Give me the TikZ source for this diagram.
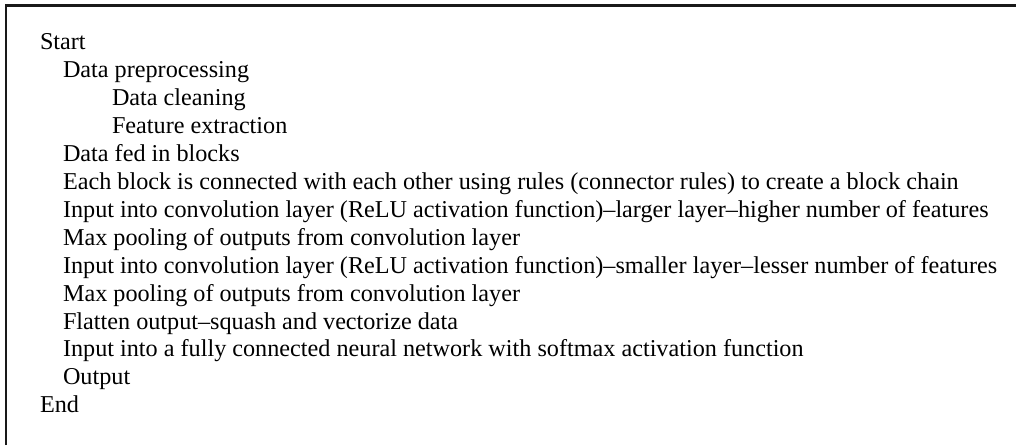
\documentclass[tikz,border=0pt]{standalone}
\usepackage{fontspec}
\setmainfont{Liberation Serif}
\begin{document}
\begin{tikzpicture}[x=1pt,y=1pt,
  step line/.style={anchor=base west,inner sep=0pt,outer sep=0pt,
    font=\fontsize{24.2}{28}\selectfont},
  frame line/.style={line width=2.2pt,draw=black!90}]
\useasboundingbox (0,0) rectangle (1016,445);
% frame (open at the right and bottom)
\coordinate (fb) at (6,0);
\coordinate (fc) at (6,439.5);
\coordinate (fr) at (1016,439.5);
\draw[frame line] (fb) -- (fc) -- (fr);
% algorithm steps, one per line
\def\pitch{27.9}
\node[step line] (l1)  at (40,{445-50}) {Start};
\node[step line] (l2)  at (63,{445-50-1*\pitch}) {Data preprocessing};
\node[step line] (l3)  at (112,{445-50-2*\pitch}) {Data cleaning};
\node[step line] (l4)  at (112,{445-50-3*\pitch}) {Feature extraction};
\node[step line] (l5)  at (63,{445-50-4*\pitch}) {Data fed in blocks};
\node[step line] (l6)  at (63,{445-50-5*\pitch}) {Each block is connected with each other using rules (connector rules) to create a block chain};
\node[step line] (l7)  at (63,{445-50-6*\pitch}) {Input into convolution layer (ReLU activation function)\textendash larger layer\textendash higher number of features};
\node[step line] (l8)  at (63,{445-50-7*\pitch}) {Max pooling of outputs from convolution layer};
\node[step line] (l9)  at (63,{445-50-8*\pitch}) {Input into convolution layer (ReLU activation function)\textendash smaller layer\textendash lesser number of features};
\node[step line] (l10) at (63,{445-50-9*\pitch}) {Max pooling of outputs from convolution layer};
\node[step line] (l11) at (63,{445-50-10*\pitch}) {Flatten output\textendash squash and vectorize data};
\node[step line] (l12) at (63,{445-50-11*\pitch}) {Input into a fully connected neural network with softmax activation function};
\node[step line] (l13) at (63,{445-50-12*\pitch}) {Output};
\node[step line] (l14) at (40,{445-50-13*\pitch}) {End};
\end{tikzpicture}
\end{document}
